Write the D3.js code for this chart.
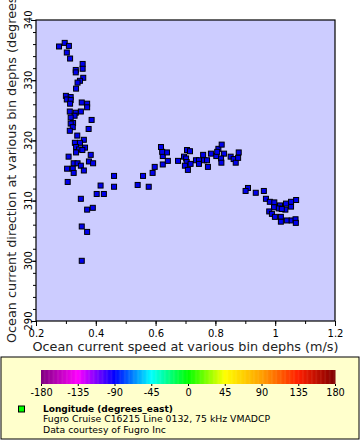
<!DOCTYPE html>
<html>
<head>
<meta charset="utf-8">
<script src="https://cdn.jsdelivr.net/npm/d3@7"></script>
<style>
  body { margin: 0; background: #fff; }
  svg { display: block; font-family: "DejaVu Sans", sans-serif; }
</style>
</head>
<body>
<div id="chart"></div>
<script>
// Ocean current speed (m/s) and direction (degrees)
const speed = [
  0.296, 0.277, 0.310, 0.303, 0.314, 0.356, 0.356, 0.333, 0.333, 0.358,
  0.347, 0.339, 0.334, 0.300, 0.316, 0.303, 0.316, 0.314, 0.353, 0.371,
  0.371, 0.313, 0.333, 0.350, 0.329, 0.316, 0.386, 0.324, 0.316, 0.323,
  0.376, 0.313, 0.338, 0.360, 0.330, 0.347, 0.334, 0.364, 0.344, 0.355,
  0.334, 0.383, 0.309, 0.326, 0.339, 0.377, 0.391, 0.350, 0.304, 0.323,
  0.360, 0.326, 0.461, 0.306, 0.416, 0.461, 0.403, 0.427, 0.350, 0.371,
  0.390, 0.353, 0.371, 0.353,
  0.540, 0.577, 0.558, 0.590, 0.597, 0.624, 0.641, 0.624, 0.638, 0.622,
  0.618, 0.675, 0.705, 0.715, 0.695, 0.702, 0.704, 0.717, 0.698, 0.708,
  0.735, 0.745, 0.745, 0.759, 0.762, 0.772, 0.775, 0.785, 0.803, 0.810,
  0.821, 0.829, 0.819, 0.820, 0.851, 0.861, 0.868, 0.878, 0.876, 0.806,
  0.909, 0.901, 0.935, 0.962, 0.969, 0.982, 0.997, 0.996, 1.016, 1.012,
  1.034, 1.036, 1.053, 1.053, 1.070, 0.980, 0.989, 0.999, 1.019, 1.019,
  1.039, 1.055, 1.068, 1.069, 1.022
];
const direction = [
  336.2, 335.6, 335.7, 334.6, 333.6, 332.7, 331.9, 331.7, 331.3, 330.4,
  329.9, 329.6, 328.6, 327.4, 327.2, 326.8, 326.7, 326.1, 326.3, 326.1,
  325.5, 324.8, 324.6, 324.8, 324.1, 323.8, 323.4, 322.9, 322.8, 322.2,
  321.9, 321.6, 320.8, 320.1, 319.6, 319.6, 318.9, 318.8, 318.5, 318.4,
  318.0, 317.6, 317.3, 316.2, 316.2, 316.5, 316.2, 315.8, 315.3, 315.3,
  315.0, 314.6, 314.1, 313.1, 312.5, 312.3, 311.1, 311.1, 310.3, 308.5,
  308.8, 305.7, 304.8, 300.0,
  312.6, 312.3, 314.1, 314.6, 315.6, 316.0, 316.6, 317.4, 318.0, 318.1,
  318.9, 316.6, 318.4, 318.2, 317.3, 317.0, 316.4, 316.1, 315.8, 315.1,
  316.7, 316.7, 316.1, 317.6, 316.7, 316.7, 315.6, 317.8, 317.4, 318.6,
  319.3, 317.8, 317.0, 316.3, 317.3, 316.9, 316.3, 318.0, 317.1, 318.1,
  312.1, 311.6, 311.3, 311.6, 310.3, 309.8, 309.7, 308.9, 309.2, 308.7,
  308.5, 309.5, 309.0, 309.8, 310.1, 308.2, 307.8, 307.3, 307.3, 306.5,
  306.7, 306.7, 306.9, 306.3, 308.6
];

const xMajor = [0.2, 0.4, 0.6, 0.8, 1.0, 1.2];
const xTickLabels = ["0.2", "0.4", "0.6", "0.8", "1", "1.2"];
const yMajor = [290, 300, 310, 320, 330, 340];

// longitude colour bar
const lonStops = [-180, -135, -90, -45, 0, 45, 90, 135, 180];
const lonColors = ["#7f007f", "#ff00ff", "#0000ff", "#00ffff", "#00ff00",
                   "#ffff00", "#ffa000", "#ff1e00", "#800000"];

const xTitle = "Ocean current speed at various bin dephs (m/s)";
const yTitle = "Ocean current direction at various bin dephs (degrees_east)";
const legendTitle = "Longitude (degrees_east)";
const legendLines = ["Fugro Cruise C16215 Line 0132, 75 kHz VMADCP", "Data courtesy of Fugro Inc"];

const width = 360, height = 440;
const plot = { left: 36, top: 20, right: 335, bottom: 321 };

const svg = d3.select("#chart").append("svg")
    .attr("width", width)
    .attr("height", height);

const x = d3.scaleLinear().domain([0.2, 1.2]).range([plot.left, plot.right]);
const y = d3.scaleLinear().domain([290, 340]).range([plot.bottom, plot.top]);

// plot background
svg.append("rect")
    .attr("x", plot.left).attr("y", plot.top)
    .attr("width", plot.right - plot.left).attr("height", plot.bottom - plot.top)
    .attr("fill", "#ccccff");

// minor ticks
const xMinor = d3.range(0.2, 1.2001, 0.1);
const yMinor = d3.range(290, 340.001, 2);
svg.append("g")
    .attr("transform", `translate(0,${plot.bottom})`)
    .call(d3.axisBottom(x).tickValues(xMinor).tickSize(3).tickFormat(""))
    .call(g => g.select(".domain").remove());
svg.append("g")
    .attr("transform", `translate(${plot.left},0)`)
    .call(d3.axisLeft(y).tickValues(yMinor).tickSize(3).tickFormat(""))
    .call(g => g.select(".domain").remove());

// major ticks
svg.append("g")
    .attr("transform", `translate(0,${plot.bottom})`)
    .call(d3.axisBottom(x).tickValues(xMajor).tickSize(5).tickFormat((d, i) => xTickLabels[i]))
    .call(g => g.select(".domain").remove())
    .call(g => g.selectAll("text")
        .attr("y", 9)
        .attr("font-size", 10)
        .attr("font-family", "DejaVu Sans")
        .attr("fill", "#000"));
svg.append("g")
    .attr("transform", `translate(${plot.left},0)`)
    .call(d3.axisLeft(y).tickValues(yMajor).tickSize(5).tickFormat(""))
    .call(g => g.select(".domain").remove());

// rotated y tick labels
svg.append("g")
    .selectAll("text")
    .data(yMajor)
    .join("text")
    .attr("transform", d => `translate(32,${y(d)}) rotate(-90)`)
    .attr("text-anchor", "middle")
    .attr("font-size", 10)
    .text(d => d);

// frame
svg.append("rect")
    .attr("x", plot.left).attr("y", plot.top)
    .attr("width", plot.right - plot.left).attr("height", plot.bottom - plot.top)
    .attr("fill", "none")
    .attr("stroke", "#000")
    .attr("stroke-width", 1.2);

// points
const pts = speed.map((s, i) => ({ s: s, d: direction[i] }));
svg.append("g")
    .selectAll("rect")
    .data(pts)
    .join("rect")
    .attr("x", d => x(d.s) - 2.5)
    .attr("y", d => y(d.d) - 2.5)
    .attr("width", 5)
    .attr("height", 5)
    .attr("fill", "#0000ee")
    .attr("stroke", "#000")
    .attr("stroke-width", 1);

// axis titles
svg.append("text")
    .attr("x", (plot.left + plot.right) / 2)
    .attr("y", 351)
    .attr("text-anchor", "middle")
    .attr("font-size", 12.8)
    .attr("fill", "#222")
    .text(xTitle);

// y title runs past the top edge, as in the original
svg.append("text")
    .attr("transform", "translate(16,343) rotate(-90)")
    .attr("text-anchor", "start")
    .attr("font-size", 12.8)
    .attr("fill", "#222")
    .text(yTitle);

// legend box
svg.append("rect")
    .attr("x", 1).attr("y", 357)
    .attr("width", 358).attr("height", 82)
    .attr("fill", "#ffffcc")
    .attr("stroke", "#000")
    .attr("stroke-width", 1);

// colour bar
const cb = d3.scaleLinear().domain([-180, 180]).range([41, 335]);
const color = d3.scaleLinear().domain(lonStops).range(lonColors);
const steps = d3.range(-180, 180, 1);
svg.append("g")
    .selectAll("rect")
    .data(steps)
    .join("rect")
    .attr("x", d => cb(d))
    .attr("y", 370)
    .attr("width", d => cb(d + 1) - cb(d) + 0.5)
    .attr("height", 14)
    .attr("fill", d => color(d + 0.5));

svg.append("g")
    .attr("transform", "translate(0,384)")
    .call(d3.axisBottom(cb).tickValues(lonStops).tickSize(2).tickFormat(d => d))
    .call(g => g.select(".domain").remove())
    .call(g => g.selectAll("text")
        .attr("y", 5)
        .attr("font-size", 9.8)
        .attr("font-family", "DejaVu Sans")
        .attr("fill", "#000"));

// legend marker and texts
svg.append("rect")
    .attr("x", 18.5).attr("y", 406)
    .attr("width", 6).attr("height", 6)
    .attr("fill", "#00ff00")
    .attr("stroke", "#000");

svg.append("text")
    .attr("x", 43).attr("y", 411.5)
    .attr("font-size", 9)
    .attr("font-weight", "bold")
    .text(legendTitle);

svg.append("g")
    .selectAll("text")
    .data(legendLines)
    .join("text")
    .attr("x", 43)
    .attr("y", (d, i) => 422 + i * 10.5)
    .attr("font-size", 9.3)
    .text(d => d);
</script>
</body>
</html>
